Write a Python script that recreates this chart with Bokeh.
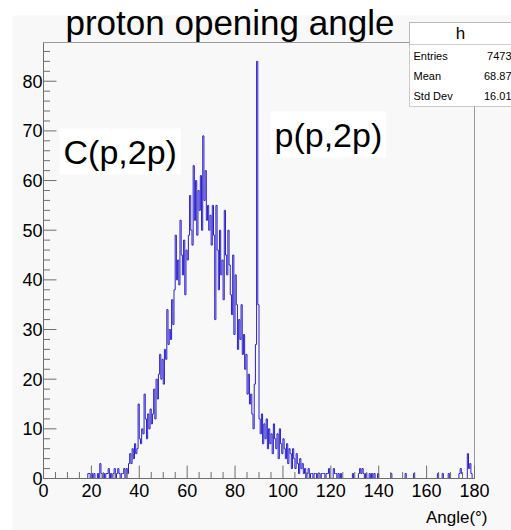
import numpy as np
from bokeh.plotting import figure
from bokeh.models import Range1d, Label, BoxAnnotation
from bokeh.core.properties import value
from bokeh.embed import file_html
from bokeh.resources import INLINE

# ---------------- data ----------------
bin_width = 0.5          # degrees per bin
n_bins = 360             # 0 .. 180 degrees
main_start = 18.0        # first bin of the dense region

# counts per 0.5 degree bin from 18.0 to 124.5 degrees
main_counts = [
    0, 1, 1, 0, 1, 0, 1, 0, 0, 1,        # 18.0 - 22.5
    0, 3, 1, 0, 1, 0, 1, 1, 2, 0,        # 23.0 - 27.5
    1, 0, 1, 2, 0, 1, 2, 1, 0, 1,        # 28.0 - 32.5
    1, 2, 0, 2, 1, 3, 5, 3, 6, 4,        # 33.0 - 37.5
    7, 5, 6, 15, 8, 7, 10, 9, 17, 12,    # 38.0 - 42.5
    8, 13, 10, 14, 11, 13, 18, 12, 20, 16,   # 43.0 - 47.5
    21, 25, 20, 24, 19, 26, 24, 34, 27, 30,  # 48.0 - 52.5
    28, 36, 31, 38, 49, 40, 44, 39, 52, 45,  # 53.0 - 57.5
    41, 48, 37, 46, 44, 49, 57, 50, 47, 63,  # 58.0 - 62.5
    52, 60, 49, 58, 54, 61, 50, 69, 56, 62,  # 63.0 - 67.5
    52, 55, 50, 53, 47, 55, 49, 32, 55, 46,  # 68.0 - 72.5
    38, 50, 41, 44, 36, 54, 45, 41, 50, 43,  # 73.0 - 77.5
    37, 33, 45, 29, 41, 35, 26, 32, 28, 35,  # 78.0 - 82.5
    25, 29, 22, 25, 17, 21, 15, 17, 13, 10,  # 83.0 - 87.5
    19, 27, 84, 35, 12, 9, 13, 7, 11, 8,     # 88.0 - 92.5
    12, 6, 10, 7, 9, 5, 11, 8, 6, 9,         # 93.0 - 97.5
    4, 10, 7, 5, 8, 6, 4, 7, 3, 6,           # 98.0 - 102.5
    5, 2, 6, 4, 2, 5, 3, 1, 4, 2,            # 103.0 - 107.5
    3, 1, 2, 0, 1, 2, 0, 1, 1, 0,            # 108.0 - 112.5
    1, 1, 0, 1, 1, 0, 1, 1, 1, 0,            # 113.0 - 117.5
    1, 1, 2, 0, 0, 0, 2, 1, 1, 0,            # 118.0 - 122.5
    1, 0, 1, 0,                              # 123.0 - 124.5
]

# sparse tail beyond 125 degrees
tail_angles = [129.0, 131.5, 132.0, 132.5, 133.0, 133.5, 134.5, 136.0, 137.0,
               138.0, 139.5, 145.0, 151.0, 154.5, 164.5, 166.5, 169.0, 173.5,
               174.0, 174.5, 177.0, 177.5, 178.0, 178.5]
tail_counts = [1, 1, 2, 1, 2, 1, 1, 1, 1,
               1, 1, 1, 1, 1, 1, 1, 1, 1,
               2, 1, 5, 2, 3, 1]

x_min, x_max = 0, 180
y_min, y_max = 0, 87.8
x_ticks = [0, 20, 40, 60, 80, 100, 120, 140, 160, 180]
x_minor = [v for v in range(0, 181, 5) if v % 20]
y_ticks = [0, 10, 20, 30, 40, 50, 60, 70, 80]
y_minor = [v for v in range(0, 88, 2) if v % 10]

stat_names = ["Entries", "Mean", "Std Dev"]
stat_values = ["7473", "68.87", "16.01"]

# ---------------- build histogram ----------------
counts = np.zeros(n_bins)
i0 = int(round(main_start / bin_width))
counts[i0:i0 + len(main_counts)] = main_counts
for a, c in zip(tail_angles, tail_counts):
    counts[int(round(a / bin_width))] = c
edges = x_min + np.arange(n_bins + 1) * bin_width
ys = np.append(counts, counts[-1])

# ---------------- page geometry (pixels) ----------------
W, H = 511, 530
F_L, F_R, F_T, F_B = 43, 474, 42, 478          # frame edges in pixels
sx = (F_R - F_L) / (x_max - x_min)
sy = (F_B - F_T) / (y_max - y_min)


def dx(px):
    return x_min + (px - F_L) / sx


def dy(py):
    return y_min + (F_B - py) / sy


BG = "#f8f8f8"
FONT = "Liberation Sans"
AX = "#6e6e6e"

p = figure(width=W, height=H, output_backend="svg", toolbar_location=None,
           x_range=Range1d(dx(0), dx(W)), y_range=Range1d(dy(H), dy(0)),
           x_axis_location=None, y_axis_location=None, min_border=0)
p.outline_line_color = None
p.background_fill_color = "white"
p.border_fill_color = "white"
p.xgrid.grid_line_color = None
p.ygrid.grid_line_color = None

# canvas (grey) area
p.add_layout(BoxAnnotation(left=dx(12), right=dx(W + 5), top=dy(15),
                           bottom=dy(H + 5), fill_color=BG, fill_alpha=1,
                           line_alpha=0, level="underlay"))

# histogram
p.step(edges, ys, mode="after", line_color="#2a1fcc", line_width=1)

# frame: top / right (light) and axes (darker)
p.segment(x0=[x_min, x_max], y0=[y_max, y_min], x1=[x_max, x_max],
          y1=[y_max, y_max], line_color="#9a9a9a", line_width=1)
p.segment(x0=[x_min, x_min], y0=[y_min, y_min], x1=[x_max, x_min],
          y1=[y_min, y_max], line_color=AX, line_width=1)

# ticks (inside the frame, as in ROOT)
p.segment(x0=x_ticks, y0=[y_min] * len(x_ticks), x1=x_ticks,
          y1=[y_min + 13 / sy] * len(x_ticks), line_color=AX)
p.segment(x0=x_minor, y0=[y_min] * len(x_minor), x1=x_minor,
          y1=[y_min + 6.5 / sy] * len(x_minor), line_color=AX)
p.segment(x0=[x_min] * len(y_ticks), y0=y_ticks,
          x1=[x_min + 13 / sx] * len(y_ticks), y1=y_ticks, line_color=AX)
p.segment(x0=[x_min] * len(y_minor), y0=y_minor,
          x1=[x_min + 6.5 / sx] * len(y_minor), y1=y_minor, line_color=AX)

# tick labels
p.text(x=x_ticks, y=[dy(489.5)] * len(x_ticks), text=[str(t) for t in x_ticks],
       text_align="center", text_baseline="middle",
       text_font=value(FONT), text_font_size=value("18px"), text_color="black")
p.text(x=[dx(42)] * len(y_ticks), y=y_ticks,
       text=[str(t) for t in y_ticks],
       text_align="right", text_baseline="middle",
       text_font=value(FONT), text_font_size=value("18px"), text_color="black")

# title
p.add_layout(Label(x=dx(65), y=dy(21.5), text="proton opening angle",
                   text_font=FONT, text_font_size="35px", text_color="black",
                   text_align="left", text_baseline="middle"))

# annotations
p.add_layout(Label(x=dx(59), y=dy(151), text="C(p,2p)", text_font=FONT,
                   text_font_size="34px", text_color="black",
                   text_align="left", text_baseline="middle",
                   background_fill_color="white", background_fill_alpha=1,
                   padding=4))
p.add_layout(Label(x=dx(270), y=dy(134), text="p(p,2p)", text_font=FONT,
                   text_font_size="34px", text_color="black",
                   text_align="left", text_baseline="middle",
                   background_fill_color="white", background_fill_alpha=1,
                   padding=4))

# stats box
p.add_layout(BoxAnnotation(left=dx(409), right=dx(W + 20), top=dy(22),
                           bottom=dy(106), fill_color="white", fill_alpha=1,
                           line_color="#555555", line_width=1))
p.add_layout(BoxAnnotation(left=dx(409), right=dx(W + 20), top=dy(22),
                           bottom=dy(44), fill_color="white", fill_alpha=1,
                           line_color="#555555", line_width=1))
p.add_layout(Label(x=dx(460), y=dy(33), text="h", text_font=FONT,
                   text_font_size="17px", text_color="black",
                   text_align="center", text_baseline="middle"))
for k, (nm, vl) in enumerate(zip(stat_names, stat_values)):
    py = 55 + 20 * k
    p.add_layout(Label(x=dx(413), y=dy(py), text=nm, text_font=FONT,
                       text_font_size="11px", text_color="black",
                       text_align="left", text_baseline="middle"))
    p.add_layout(Label(x=dx(511), y=dy(py), text=vl, text_font=FONT,
                       text_font_size="11px", text_color="black",
                       text_align="right", text_baseline="middle"))

# x-axis title
p.add_layout(Label(x=dx(487), y=dy(517), text="Angle(°)", text_font=FONT,
                   text_font_size="17px", text_color="black",
                   text_align="right", text_baseline="middle"))

open("out.html", "w").write(file_html(p, INLINE))
